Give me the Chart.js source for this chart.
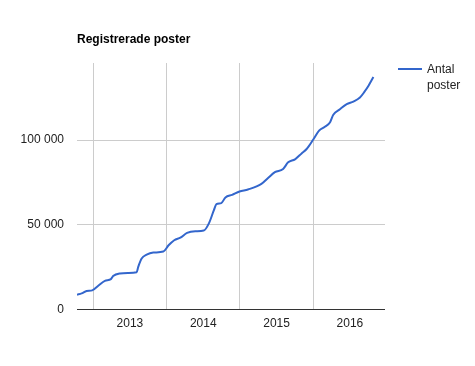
<!DOCTYPE html>
<html>
<head>
<meta charset="utf-8">
<script src="https://cdn.jsdelivr.net/npm/chart.js@4"></script>
<style>
    body { margin: 0; background: #fff; }
    canvas { display: block; }
</style>
</head>
<body>
<canvas id="grafico" width="475" height="366"></canvas>
<script>
// Datum och antal poster
const datum = [
    '2012-10-12', '2012-11-04', '2012-11-29', '2012-12-27', '2013-01-26',
    '2013-02-28', '2013-03-30', '2013-04-10', '2013-05-14', '2013-06-24',
    '2013-08-05', '2013-08-13', '2013-08-30', '2013-09-24', '2013-10-27',
    '2013-12-16', '2014-01-11', '2014-02-08', '2014-03-11', '2014-04-13',
    '2014-05-24', '2014-07-05', '2014-07-30', '2014-08-24', '2014-09-06',
    '2014-09-30', '2014-10-21', '2014-11-23', '2014-12-30', '2015-02-10',
    '2015-04-18', '2015-05-21', '2015-06-24', '2015-08-04', '2015-08-29',
    '2015-10-02', '2015-11-04', '2015-11-29', '2016-01-01', '2016-01-31',
    '2016-02-28', '2016-03-24', '2016-04-10', '2016-05-13', '2016-06-16',
    '2016-07-19', '2016-08-21', '2016-09-12', '2016-10-02', '2016-10-27'
];
const antalPoster = [
    8600, 9400, 10800, 11200, 13900,
    16800, 17800, 19600, 21200, 21500,
    21900, 25100, 30000, 32300, 33500,
    34100, 37800, 40800, 42300, 45100,
    46100, 46500, 50600, 58400, 62100,
    62700, 66100, 67600, 69600, 70800,
    74100, 77600, 81000, 82900, 86800,
    88600, 92100, 94700, 100300, 105700,
    107800, 110300, 114900, 118200, 121200,
    122700, 125100, 128400, 131900, 137200
];
const yTicks = [0, 50000, 100000];
const artal = [2013, 2014, 2015, 2016];

// Datum -> decimalt år
function decimaltAr(s) {
    const d = new Date(s + 'T00:00:00Z');
    const y = d.getUTCFullYear();
    const start = Date.UTC(y, 0, 1);
    const slut = Date.UTC(y + 1, 0, 1);
    return y + (d.getTime() - start) / (slut - start);
}

const punkter = datum.map((d, i) => ({ x: decimaltAr(d), y: antalPoster[i] }));

const FONT = 'Arial, "Liberation Sans", sans-serif';

// Egen legend till höger
const legendPlugin = {
    id: 'egenLegend',
    afterDraw(chart) {
        const c = chart.ctx;
        const ds = chart.data.datasets[0];
        c.save();
        c.strokeStyle = ds.borderColor;
        c.lineWidth = 2;
        c.beginPath();
        c.moveTo(398, 69);
        c.lineTo(422, 69);
        c.stroke();
        c.fillStyle = '#222';
        c.font = '12px ' + FONT;
        c.textBaseline = 'middle';
        c.textAlign = 'left';
        ds.label.split(' ').forEach((ord, i) => c.fillText(ord, 427, 70 + i * 16));
        c.restore();
    }
};

const ctx = document.getElementById('grafico').getContext('2d');
const grafico = new Chart(ctx, {
    type: 'line',
    data: {
        datasets: [{
            label: 'Antal poster',
            data: punkter,
            borderColor: '#3366cc',
            borderWidth: 2,
            pointRadius: 0,
            cubicInterpolationMode: 'monotone',
            fill: false
        }]
    },
    options: {
        responsive: false,
        animation: false,
        layout: { padding: { top: 0, right: 90, bottom: 0, left: 0 } },
        plugins: {
            legend: { display: false },
            tooltip: { enabled: false },
            title: {
                display: true,
                text: 'Registrerade poster',
                align: 'start',
                fullSize: false,
                color: '#000',
                font: { family: FONT, size: 12, weight: 'bold' },
                padding: { top: 32, bottom: 16.6 }
            }
        },
        scales: {
            x: {
                type: 'linear',
                min: decimaltAr('2012-10-12'),
                max: 2016.978,
                border: { display: false },
                grid: {
                    drawTicks: false,
                    color: c => (c.tick && c.tick.value % 1 === 0) ? '#cccccc' : 'rgba(0,0,0,0)'
                },
                afterBuildTicks: scale => {
                    const t = [];
                    artal.forEach(a => { t.push({ value: a }); t.push({ value: a + 0.5 }); });
                    scale.ticks = t;
                },
                afterFit: scale => { scale.height = 56.7; },
                ticks: {
                    autoSkip: false,
                    maxRotation: 0,
                    padding: 7,
                    color: '#222',
                    font: { family: FONT, size: 12 },
                    callback: v => (v % 1 !== 0) ? String(Math.floor(v)) : ''
                }
            },
            y: {
                min: 0,
                max: 145500,
                border: { display: false },
                grid: {
                    drawTicks: false,
                    color: c => (c.tick && c.tick.value === 0) ? '#333333' : '#cccccc'
                },
                afterBuildTicks: scale => {
                    scale.ticks = yTicks.map(v => ({ value: v }));
                },
                afterFit: scale => { scale.width = 77; },
                ticks: {
                    padding: 13,
                    color: '#222',
                    font: { family: FONT, size: 12 },
                    callback: v => String(v).replace(/\B(?=(\d{3})+(?!\d))/g, ' ')
                }
            }
        }
    },
    plugins: [legendPlugin]
});
</script>
</body>
</html>
